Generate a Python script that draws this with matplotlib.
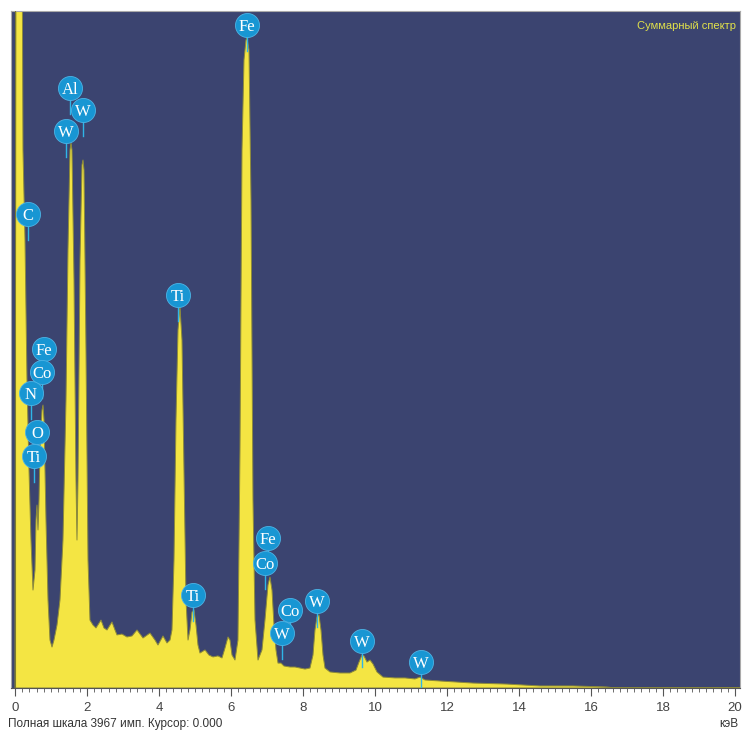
import matplotlib
matplotlib.use("Agg")
import matplotlib.pyplot as plt
from matplotlib.ticker import MultipleLocator

# spectrum (energy keV, counts)
energy = [0.000, 0.028, 0.194, 0.222, 0.278, 0.333, 0.389, 0.444, 0.500, 0.556,
          0.583, 0.611, 0.639, 0.667, 0.694, 0.750, 0.778, 0.806, 0.861, 0.917,
          0.972, 1.028, 1.083, 1.167, 1.250, 1.333, 1.417, 1.472, 1.528, 1.556,
          1.583, 1.639, 1.694, 1.722, 1.750, 1.806, 1.861, 1.889, 1.917, 1.972,
          2.028, 2.083, 2.167, 2.250, 2.389, 2.472, 2.556, 2.694, 2.778, 2.833,
          2.972, 3.111, 3.250, 3.389, 3.556, 3.750, 3.889, 3.972, 4.111, 4.222,
          4.306, 4.361, 4.417, 4.472, 4.528, 4.583, 4.639, 4.694, 4.750, 4.806,
          4.861, 4.917, 4.972, 5.028, 5.083, 5.139, 5.278, 5.389, 5.500, 5.639,
          5.750, 5.833, 5.917, 5.972, 6.028, 6.111, 6.194, 6.250, 6.306, 6.361,
          6.417, 6.444, 6.500, 6.556, 6.611, 6.667, 6.750, 6.861, 6.944, 7.028,
          7.083, 7.139, 7.194, 7.250, 7.306, 7.389, 7.472, 7.639, 7.778, 7.917,
          8.056, 8.194, 8.278, 8.333, 8.389, 8.444, 8.500, 8.556, 8.611, 8.750,
          9.028, 9.306, 9.472, 9.556, 9.639, 9.694, 9.778, 9.861, 9.944, 10.056,
          10.222, 10.556, 10.833, 11.111, 11.250, 11.389, 11.806, 12.722, 13.667, 14.583,
          15.500, 16.444, 16.667, 20.2]
counts = [0, 4600, 4600, 3153, 2625, 1805, 1277, 867, 574, 691,
          984, 1072, 926, 1102, 1395, 1629, 1658, 1570, 984, 516,
          281, 240, 281, 369, 516, 867, 1688, 2567, 3153, 3194,
          3153, 2391, 1219, 867, 1219, 2508, 3065, 3094, 3035, 1981,
          750, 398, 369, 352, 398, 352, 340, 387, 340, 311,
          316, 299, 305, 340, 293, 322, 281, 252, 305, 264,
          281, 340, 750, 1570, 2098, 2233, 2039, 1277, 516, 281,
          340, 445, 457, 369, 252, 205, 223, 193, 182, 188,
          176, 234, 299, 281, 193, 164, 281, 1395, 3153, 3680,
          3797, 3809, 3739, 2860, 1102, 398, 164, 223, 398, 604,
          650, 574, 369, 223, 146, 146, 129, 123, 123, 117,
          111, 117, 193, 340, 416, 428, 340, 193, 117, 94,
          88, 88, 105, 152, 193, 188, 152, 164, 141, 94,
          64, 59, 59, 53, 64, 47, 41, 29, 23, 12,
          12, 6, 0, 0]

# element markers: name, energy, counts at circle centre
lbl_name = ["Fe", "Al", "W", "W", "C", "Ti", "Fe", "Co", "N", "O", "Ti",
            "Fe", "Co", "Ti", "W", "Co", "W", "W", "W"]
lbl_e = [6.444, 1.528, 1.889, 1.417, 0.361, 4.528, 0.806, 0.750, 0.444, 0.611, 0.528,
         7.028, 6.944, 4.944, 8.389, 7.639, 7.417, 9.639, 11.278]
lbl_c = [3885, 3516, 3387, 3264, 2778, 2303, 1987, 1852, 1729, 1500, 1360,
         879, 733, 545, 510, 457, 322, 275, 152]

full_scale = 3967

fig = plt.figure(figsize=(7.42, 7.36), dpi=100)
ax = fig.add_axes([11 / 742, 48 / 736, 729 / 742, 677 / 736])
ax.set_facecolor("#3B4470")

ax.fill_between(energy, counts, 0, color="#F4E543", edgecolor="#8C8A3A",
                linewidth=0.7, zorder=2)
ax.axvline(0, color="#7A7A30", lw=0.8, zorder=3)

for name, e, c in zip(lbl_name, lbl_e, lbl_c):
    ax.plot([e, e], [c - 150, c - 50], color="#2FB5E8", lw=1, zorder=4)
    ax.scatter([e], [c], s=300, color="#1896D3", edgecolor="#4DB4E6",
               linewidth=0.6, zorder=5)
    ax.text(e, c - 10, name, color="white", ha="center", va="center",
            fontsize=12, family="Liberation Serif", zorder=6)

ax.text(0.995, 0.985, "Суммарный спектр", transform=ax.transAxes,
        ha="right", va="top", color="#E2E24A", fontsize=8,
        family="Liberation Sans")

ax.set_xlim(-0.111, 20.139)
ax.set_ylim(0, full_scale)
ax.set_yticks([])
ax.xaxis.set_major_locator(MultipleLocator(2))
ax.xaxis.set_minor_locator(MultipleLocator(0.2))
ax.tick_params(axis="x", which="major", length=6, width=0.8, color="#555555",
               labelsize=9.5, labelcolor="#444444", pad=4)
ax.tick_params(axis="x", which="minor", length=3, width=0.6, color="#555555")
for lab in ax.get_xticklabels():
    lab.set_family("Liberation Sans")
for s in ax.spines.values():
    s.set_color("#AAAAAA")
    s.set_linewidth(0.8)
ax.spines["bottom"].set_color("#555555")

fig.text(8 / 742, 1 - 724 / 736, "Полная шкала 3967 имп. Курсор: 0.000",
         ha="left", va="center", fontsize=8.5, color="#333333",
         family="Liberation Sans")
fig.text(738 / 742, 1 - 724 / 736, "кэВ", ha="right", va="center",
         fontsize=8.5, color="#333333", family="Liberation Sans")

fig.savefig("out.png", dpi=100)
